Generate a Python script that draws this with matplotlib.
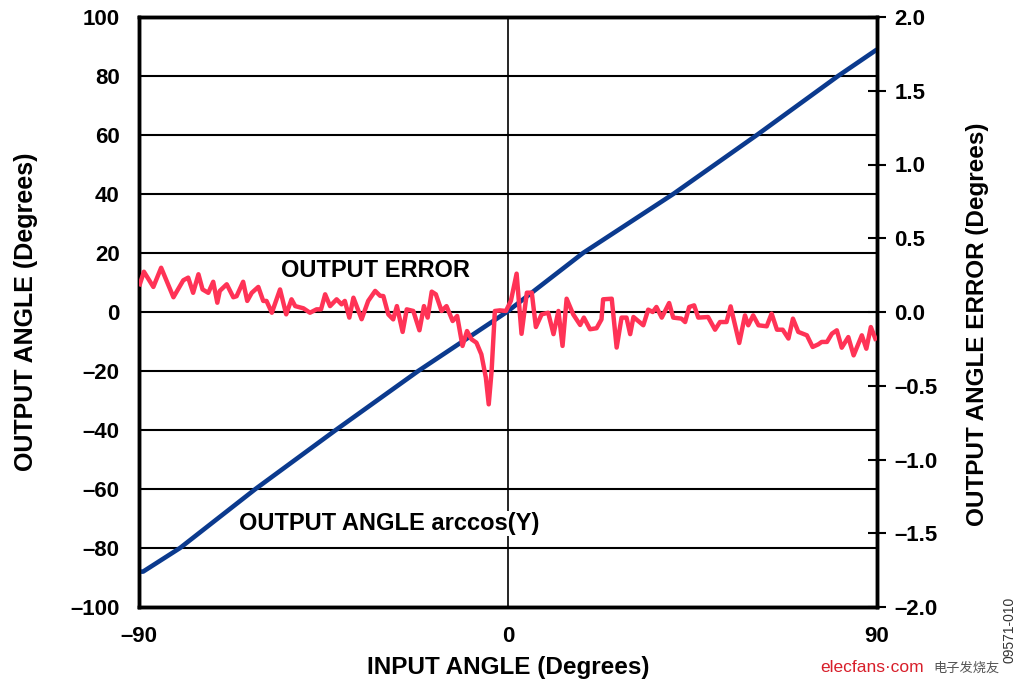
import matplotlib
matplotlib.use("Agg")
import matplotlib.pyplot as plt

plt.rcParams['font.family'] = ['Liberation Sans', 'DejaVu Sans', 'Noto Sans CJK SC']
plt.rcParams['font.weight'] = 'bold'

# Output angle (left axis)
angle_x = [-90, -89, -80, -61.6, -42, -21.9, -0.3, 18.3, 40.3, 60.7, 80.5, 90]
angle_y = [-88, -88, -80, -60, -40, -20, 0, 20, 40, 60, 80, 89]

# Output angle error (right axis)
err_x = [-89.8, -88.8, -86.5, -84.6, -81.6, -79.2, -78.0, -76.8, -75.5, -74.5, -73.1, -71.9,
         -70.9, -70.3, -68.6, -67.0, -66.2, -64.6, -63.6, -62.5, -60.9, -59.7, -58.9, -57.6,
         -55.6, -54.1, -52.8, -51.9, -49.9, -48.3, -46.7, -45.6, -44.6, -43.4, -41.8, -40.6,
         -39.8, -38.7, -37.7, -35.7, -34.1, -32.4, -31.2, -30.4, -29.2, -28.0, -27.1, -25.7,
         -24.7, -23.1, -21.6, -20.5, -19.6, -18.6, -17.6, -16.2, -15.0, -13.5, -12.4, -11.1,
         -10.0, -8.9, -7.7, -6.5, -5.4, -4.7, -4.0, -3.2, -2.0, -0.5, 0.7, 2.1,
         3.3, 4.6, 5.8, 6.8, 8.2, 9.8, 11.1, 12.3, 13.3, 14.3, 15.9, 17.6,
         18.5, 20.0, 21.6, 22.8, 23.2, 25.3, 26.5, 27.7, 28.9, 29.8, 30.6, 33.0,
         34.2, 35.3, 36.2, 37.5, 39.3, 40.3, 42.3, 43.2, 44.2, 45.4, 46.4, 48.8,
         50.5, 51.7, 53.3, 54.3, 56.4, 57.8, 58.6, 59.8, 61.1, 63.1, 64.3, 65.6,
         67.0, 68.4, 69.5, 70.8, 72.9, 74.3, 75.7, 76.5, 77.8, 79.0, 80.2, 81.4,
         83.0, 84.3, 86.3, 87.4, 88.5, 89.6]
err_y = [0.188, 0.273, 0.17, 0.30, 0.10, 0.215, 0.233, 0.13, 0.256, 0.153, 0.13, 0.205,
         0.063, 0.143, 0.188, 0.10, 0.107, 0.205, 0.075, 0.13, 0.17, 0.075, 0.075, -0.005,
         0.153, -0.016, 0.086, 0.04, 0.025, -0.005, 0.018, 0.018, 0.12, 0.04, 0.086, 0.052,
         0.075, -0.038, 0.097, -0.049, 0.075, 0.143, 0.11, 0.108, -0.016, -0.05, 0.04, -0.135,
         0.018, 0.007, -0.124, 0.04, -0.038, 0.138, 0.12, 0.007, 0.04, -0.061, -0.027, -0.23,
         -0.129, -0.185, -0.208, -0.287, -0.445, -0.626, -0.40, 0.007, 0.011, 0.007, 0.075, 0.26,
         -0.148, 0.131, 0.131, -0.102, -0.016, -0.005, -0.15, 0.007, -0.23, 0.09, -0.016, -0.088,
         -0.038, -0.117, -0.11, -0.05, 0.086, 0.09, -0.241, -0.038, -0.038, -0.15, -0.034, -0.09,
         0.016, 0.0, 0.034, -0.038, 0.061, -0.038, -0.045, -0.068, 0.034, 0.045, -0.038, -0.034,
         -0.12, -0.068, -0.068, 0.038, -0.21, -0.023, -0.09, -0.023, -0.09, -0.097, -0.011, -0.12,
         -0.12, -0.18, -0.045, -0.135, -0.158, -0.237, -0.219, -0.203, -0.203, -0.147, -0.124, -0.242,
         -0.17, -0.294, -0.158, -0.249, -0.102, -0.181]

x_ticks = [-90, 0, 90]
x_ticklabels = ['\u201390', '0', '90']
left_ticks = list(range(-100, 101, 20))
left_ticklabels = [('\u2013' + str(-v)) if v < 0 else str(v) for v in left_ticks]
right_ticks = [-2.0, -1.5, -1.0, -0.5, 0.0, 0.5, 1.0, 1.5, 2.0]
right_ticklabels = [('\u2013%.1f' % (-v)) if v < 0 else ('%.1f' % v) for v in right_ticks]

fig = plt.figure(figsize=(10.24, 6.89), dpi=100)
ax = fig.add_axes([139/1024, 1 - 607/689, (877-139)/1024, (607-17)/689])
ax2 = ax.twinx()

ax.set_xlim(-90, 90)
ax.set_ylim(-100, 100)
ax2.set_ylim(-2.0, 2.0)

# grid
for v in left_ticks[1:-1]:
    ax.axhline(v, color='black', lw=1.5, zorder=1)
ax.axvline(0, color='black', lw=1.2, zorder=1)

ax.plot(angle_x, angle_y, color='#0B3A8E', lw=3.3, zorder=3, solid_capstyle='butt')
ax2.plot(err_x, err_y, color='#FF3356', lw=3.2, zorder=3, solid_joinstyle='round')

ax.set_xticks(x_ticks)
ax.set_xticklabels(x_ticklabels, fontsize=16, fontweight='bold')
ax.set_yticks(left_ticks)
ax.set_yticklabels(left_ticklabels, fontsize=16, fontweight='bold')
ax.tick_params(axis='both', length=0, pad=14)
ax2.set_yticks(right_ticks)
ax2.set_yticklabels(right_ticklabels, fontsize=16, fontweight='bold')
ax2.tick_params(axis='y', direction='inout', length=13, width=1.5, pad=6)

for a in (ax, ax2):
    for s in a.spines.values():
        s.set_linewidth(2.5)

ax.set_xlabel('INPUT ANGLE (Degrees)', fontsize=17.5, fontweight='bold', labelpad=6)
ax.yaxis.set_label_coords(-0.137, 0.47)
ax.set_ylabel('OUTPUT ANGLE (Degrees)', fontsize=18, fontweight='bold')
ax2.set_ylabel('OUTPUT ANGLE ERROR (Degrees)', fontsize=17.5, fontweight='bold')
ax2.yaxis.set_label_coords(1.12, 0.48)

ax.text(-55.4, 14, 'OUTPUT ERROR', fontsize=17, fontweight='bold', ha='left', va='center', zorder=5)
ax.text(-65.6, -71.7, 'OUTPUT ANGLE arccos(Y)', fontsize=17, fontweight='bold',
        ha='left', va='center', zorder=5,
        bbox=dict(facecolor='white', edgecolor='none', pad=1))

fig.text(1009/1024, 1 - 630/689, '09571-010', rotation=90, fontsize=10, fontweight='normal',
         color='#333333', ha='center', va='center')
fig.text(820/1024, 1 - 668/689, 'elecfans\u00b7com', fontsize=12.5, fontweight='normal',
         color='#D81E2A', ha='left', va='center')
fig.text(933/1024, 1 - 668/689, '电子发烧友', fontsize=9.5, fontweight='normal',
         color='#555555', ha='left', va='center', family=['Noto Sans CJK SC'])

fig.savefig('out.png', dpi=100)
